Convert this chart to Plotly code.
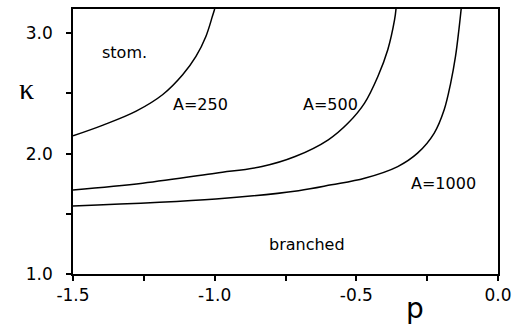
import plotly.graph_objects as go

# Curve data (p, kappa)
p_250 = [-1.5, -1.394, -1.277, -1.183, -1.113, -1.066, -1.031, -1.008, -1.0]
k_250 = [2.147, 2.236, 2.352, 2.490, 2.654, 2.806, 2.972, 3.139, 3.2]

p_500 = [-1.5, -1.254, -0.997, -0.833, -0.716, -0.599, -0.529, -0.471, -0.424, -0.389, -0.365, -0.360]
k_500 = [1.698, 1.754, 1.837, 1.892, 1.975, 2.114, 2.253, 2.419, 2.640, 2.862, 3.111, 3.2]

p_1000 = [-1.5, -0.996, -0.704, -0.588, -0.471, -0.354, -0.284, -0.225, -0.190, -0.167, -0.150, -0.138, -0.130]
k_1000 = [1.565, 1.623, 1.692, 1.740, 1.795, 1.892, 2.003, 2.170, 2.363, 2.585, 2.806, 3.028, 3.2]

x_tickvals = [-1.5, -1.25, -1.0, -0.75, -0.5, -0.25, 0.0]
x_ticktext = ["-1.5", "", "-1.0", "", "-0.5", "", "0.0"]
y_tickvals = [1.0, 1.5, 2.0, 2.5, 3.0]
y_ticktext = ["1.0", "", "2.0", "", "3.0"]

labels = [("stom.", -1.317, 2.84), ("A=250", -1.051, 2.405), ("A=500", -0.591, 2.405),
          ("A=1000", -0.191, 1.752), ("branched", -0.673, 1.249)]

fig = go.Figure()
line = dict(color="black", width=1.5, shape="spline", smoothing=1.0)
for px, ky in [(p_250, k_250), (p_500, k_500), (p_1000, k_1000)]:
    fig.add_trace(go.Scatter(x=px, y=ky, mode="lines", line=line, showlegend=False, hoverinfo="skip"))

font = dict(family="DejaVu Sans, Liberation Sans, sans-serif", color="black")
for txt, x, y in labels:
    fig.add_annotation(x=x, y=y, text=txt, showarrow=False, font=dict(size=16, **font))

fig.add_annotation(xref="paper", yref="paper", x=(428.5 - 73) / 428, y=-(327 - 274) / 267,
                   text="p", showarrow=False, font=dict(size=28, **font))
fig.add_annotation(xref="paper", yref="y", x=-(73 - 17) / 428, y=2.54,
                   text="κ", showarrow=False,
                   font=dict(size=30, family="Liberation Serif, DejaVu Serif, serif", color="black"))

axis_common = dict(ticks="outside", ticklen=5, tickwidth=1.5, tickcolor="black", showline=True,
                   linecolor="black", linewidth=1.5, mirror=True, showgrid=False, zeroline=False,
                   tickfont=dict(size=17, **font))

fig.update_layout(
    width=519, height=330,
    margin=dict(l=73, r=18, t=7, b=56),
    paper_bgcolor="white", plot_bgcolor="white",
    font=dict(size=16, **font),
    xaxis=dict(range=[-1.5, 0.0], tickvals=x_tickvals, ticktext=x_ticktext, **axis_common),
    yaxis=dict(range=[1.0, 3.2], tickvals=y_tickvals, ticktext=y_ticktext, ticklabelstandoff=10,
               **axis_common),
)

fig.write_html("out.html")
